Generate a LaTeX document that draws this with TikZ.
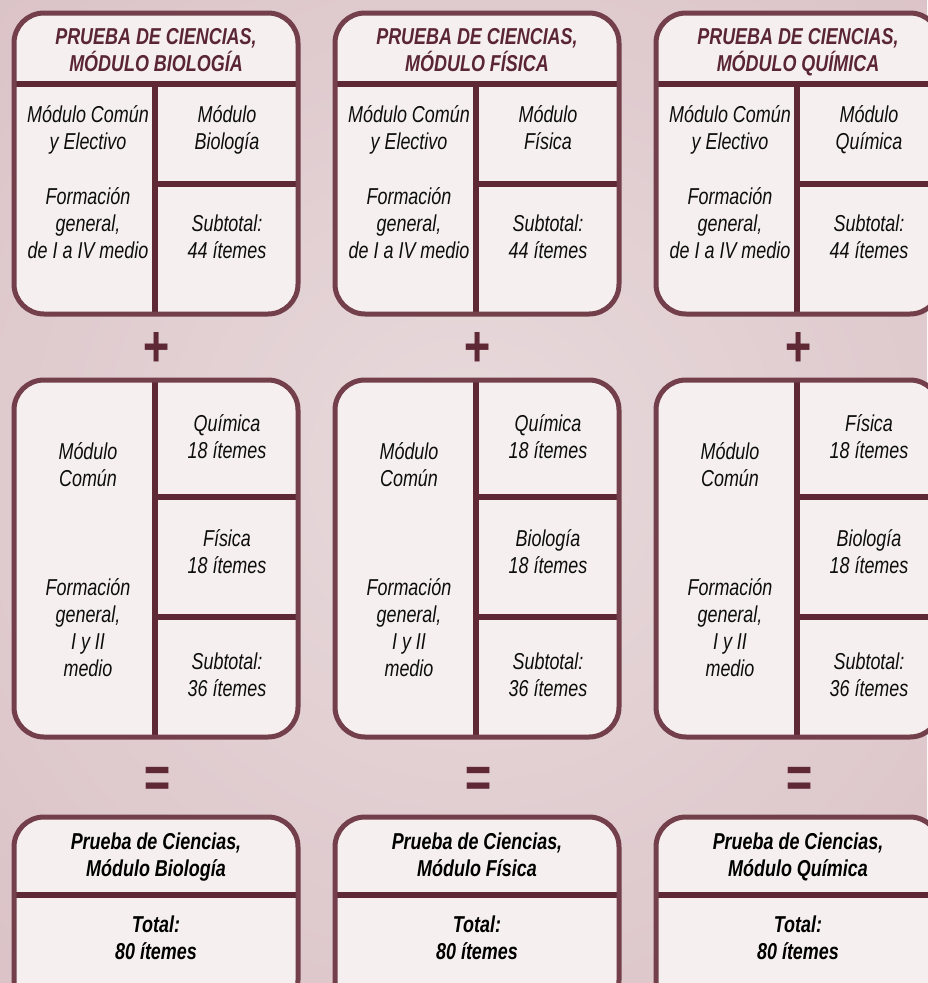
\documentclass[tikz,border=0pt]{standalone}
\usepackage{fontspec}
\setmainfont{Liberation Sans}[FakeStretch=0.78]
\newcommand\topstrut{\rule{0pt}{22pt}}
\newcommand\botstrut{\rule[-6pt]{0pt}{6pt}}
\begin{document}
\begin{tikzpicture}[x=1pt,y=-1pt,font=\itshape\fontsize{23}{27}\selectfont,
  boxedge/.style={draw=edgecol,line width=5pt,rounded corners=30pt},
  boxfill/.style={fill=boxbg,rounded corners=30pt},
  divline/.style={draw=divcol,line width=6pt},
  txt/.style={align=center,inner sep=0pt,text=black!95,
    execute at begin node=\topstrut,execute at end node=\botstrut},
  headtxt/.style={txt,text=headcol,font=\bfseries\itshape\fontsize{23}{27}\selectfont},
  sumtxt/.style={txt,text=black,font=\bfseries\itshape\fontsize{23}{27}\selectfont},
  opsign/.style={inner sep=0pt,text=divcol,font=\bfseries\itshape\fontsize{58}{58}\selectfont}]
  \definecolor{bglite}{HTML}{E8DADC}
  \definecolor{bgdark}{HTML}{CFAEB4}
  \definecolor{boxbg}{HTML}{F5EFEF}
  \definecolor{edgecol}{HTML}{733F4B}
  \definecolor{divcol}{HTML}{5E2835}
  \definecolor{headcol}{HTML}{5A2535}
  \useasboundingbox (0,0) rectangle (927,983);
  % background
  \begin{scope}
    \clip (0,0) rectangle (927,983);
    \shade[inner color=bglite,outer color=bgdark] (470,470) circle (1300);
  \end{scope}
  \foreach \i/\up/\low/\ma/\mb in {0/BIOLOGÍA/Biología/Química/Física,
      1/FÍSICA/Física/Química/Biología, 2/QUÍMICA/Química/Física/Biología}{
    \begin{scope}[xshift=321*\i]
      % upper box
      \fill[boxfill] (14,13) rectangle (298,314);
      \draw[divline] (14,84) -- (298,84);
      \draw[divline] (155,84) -- (155,314);
      \draw[divline] (155,184) -- (298,184);
      \draw[boxedge] (14,13) rectangle (298,314);
      \node[headtxt] (head\i) at (156,53) {PRUEBA DE CIENCIAS,\\MÓDULO \up};
      \node[txt] (elec\i) at (88,131) {Módulo Común\\y Electivo};
      \node[txt] (genu\i) at (88,226.5) {Formación\\general,\\de I a IV medio};
      \node[txt] (modu\i) at (227,131) {Módulo\\\low};
      \node[txt] (subu\i) at (227,239.5) {Subtotal:\\44 ítemes};
      \node[opsign] (plus\i) at (156,349) {+};
      % middle box
      \fill[boxfill] (14,380) rectangle (298,737);
      \draw[divline] (155,380) -- (155,737);
      \draw[divline] (155,497) -- (298,497);
      \draw[divline] (155,617) -- (298,617);
      \draw[boxedge] (14,380) rectangle (298,737);
      \node[txt] (comm\i) at (88,467.5) {Módulo\\Común};
      \node[txt] (genm\i) at (88,630.5) {Formación\\general,\\I y II\\medio};
      \node[txt] (moda\i) at (227,440) {\ma\\18 ítemes};
      \node[txt] (modb\i) at (227,555) {\mb\\18 ítemes};
      \node[txt] (subm\i) at (227,677.5) {Subtotal:\\36 ítemes};
      \node[opsign] (equa\i) at (157,782) {=};
      % lower box
      \fill[boxfill] (14,817) rectangle (298,1010);
      \draw[divline] (14,895) -- (298,895);
      \draw[boxedge] (14,817) rectangle (298,1010);
      \node[sumtxt] (name\i) at (156,858) {Prueba de Ciencias,\\Módulo \low};
      \node[sumtxt] (totl\i) at (156,941) {Total:\\80 ítemes};
    \end{scope}
  }
\end{tikzpicture}
\end{document}
